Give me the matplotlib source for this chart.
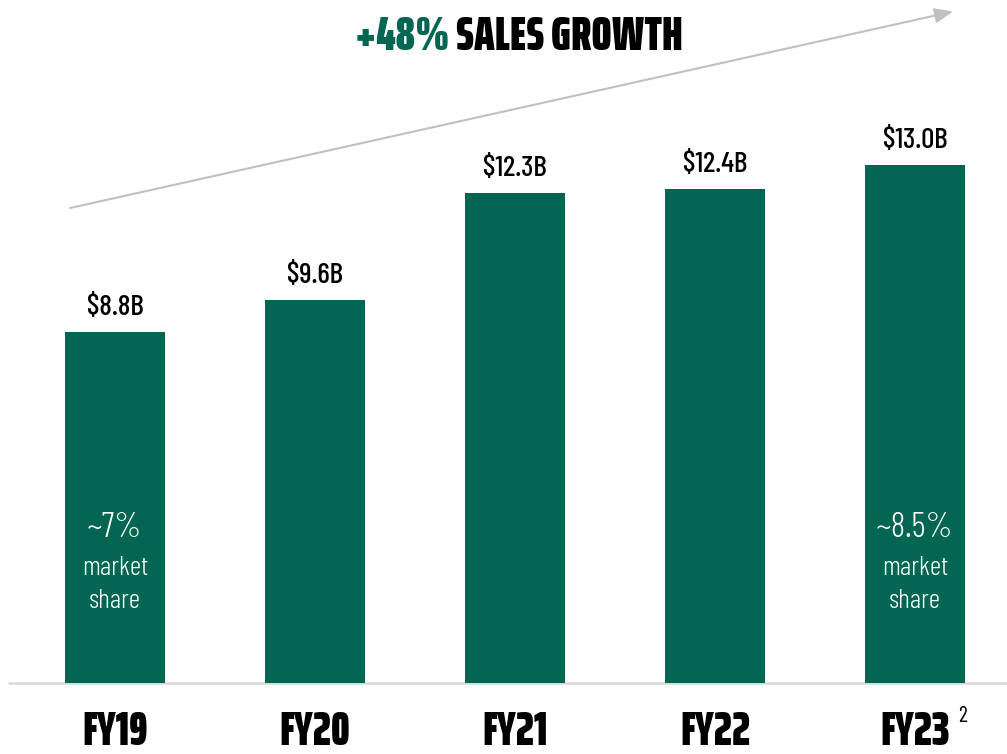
import matplotlib
matplotlib.use("Agg")
import matplotlib.pyplot as plt

categories = ["FY19", "FY20", "FY21", "FY22", "FY23"]
sales_bn = [8.8, 9.6, 12.3, 12.4, 13.0]
value_labels = ["$8.8B", "$9.6B", "$12.3B", "$12.4B", "$13.0B"]
share_labels = {0: "~7%", 4: "~8.5%"}
footnote = {4: "2"}
title_green = "+48%"
title_black = "SALES GROWTH"

GREEN = "#026652"
W, H = 1007, 754
BOLD = ["Saira ExtraCondensed", "Barlow Condensed", "DejaVu Sans"]
MED = ["Barlow Condensed", "Roboto Condensed", "DejaVu Sans"]
LIGHT = ["Barlow Condensed", "Roboto Condensed", "DejaVu Sans"]

fig = plt.figure(figsize=(W / 100, H / 100), dpi=100)
ax = fig.add_axes([0, 0, 1, 1])
ax.set_xlim(-0.575, 4.46)
ax.set_ylim(-1.78, 17.14)
ax.axis("off")

x = list(range(len(categories)))
ax.bar(x, sales_bn, width=0.5, color=GREEN, zorder=2)
ax.plot([-0.535, 4.46], [0, 0], color="#d9d9d9", lw=1.8, zorder=1, solid_capstyle="butt")

for xi, v, lab in zip(x, sales_bn, value_labels):
    ax.annotate(lab, (xi, v), xytext=(0, 17), textcoords="offset pixels",
                ha="center", va="baseline", fontsize=21, family=MED, fontweight=500)

for i, s in share_labels.items():
    ax.annotate(s, (i, 0), xytext=(0, 146), textcoords="offset pixels", ha="center", va="baseline",
                fontsize=25, family=LIGHT, fontweight=300, color="white")
    ax.annotate("market", (i, 0), xytext=(0, 108), textcoords="offset pixels", ha="center", va="baseline",
                fontsize=20, family=LIGHT, fontweight=300, color="white")
    ax.annotate("share", (i, 0), xytext=(0, 75), textcoords="offset pixels", ha="center", va="baseline",
                fontsize=20, family=LIGHT, fontweight=300, color="white")

for xi, c in zip(x, categories):
    t = ax.annotate(c, (xi, 0), xytext=(0, -62), textcoords="offset pixels", ha="center", va="baseline",
                    fontsize=34, family=BOLD, fontweight=900, color="black")
    if xi in footnote:
        fig.canvas.draw()
        bb = t.get_window_extent()
        fig.text((bb.x1 + 8) / W, (H - 722) / H, footnote[xi], fontsize=16, family=MED,
                 fontweight=400, ha="left", va="baseline")

# growth arrow
ax.annotate("", xy=(4.19, 16.85), xytext=(-0.225, 11.92),
            arrowprops=dict(arrowstyle="-|>,head_length=1.1,head_width=0.45", color="#c0c0c0", lw=1.5,
                            shrinkA=0, shrinkB=0))

# title
fig.canvas.draw()
r = fig.canvas.get_renderer()
tg = fig.text(355 / W, 1 - 50 / H, title_green + " ", fontsize=35, family=BOLD, fontweight=900,
              color=GREEN, ha="left", va="baseline")
bb = tg.get_window_extent(renderer=r)
fig.text(bb.x1 / W, 1 - 50 / H, title_black, fontsize=35, family=BOLD, fontweight=900,
         color="black", ha="left", va="baseline")

fig.savefig("out.png", dpi=100)
